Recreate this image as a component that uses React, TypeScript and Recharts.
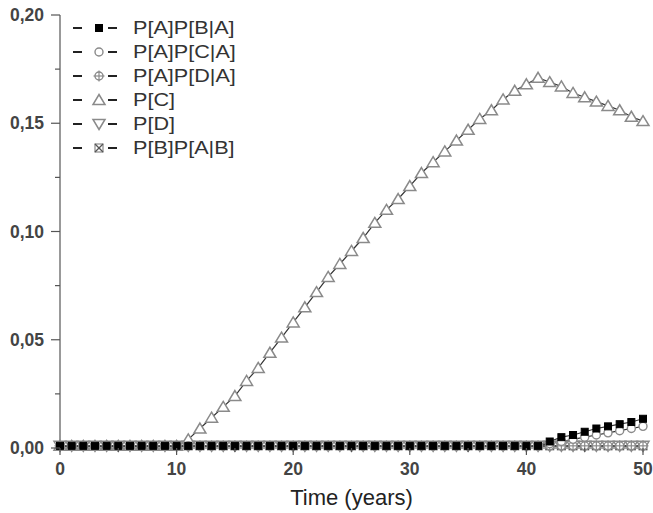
import React from 'react';
import { LineChart, Line, XAxis, YAxis, Legend } from 'recharts';

const years = [0, 1, 2, 3, 4, 5, 6, 7, 8, 9, 10, 11, 12, 13, 14, 15, 16, 17, 18, 19, 20, 21, 22, 23, 24, 25, 26, 27, 28, 29, 30, 31, 32, 33, 34, 35, 36, 37, 38, 39, 40, 41, 42, 43, 44, 45, 46, 47, 48, 49, 50];

const pApBA = [0.001, 0.001, 0.001, 0.001, 0.001, 0.001, 0.001, 0.001, 0.001, 0.001, 0.001, 0.001, 0.001, 0.001, 0.001, 0.001, 0.001, 0.001, 0.001, 0.001, 0.001, 0.001, 0.001, 0.001, 0.001, 0.001, 0.001, 0.001, 0.001, 0.001, 0.001, 0.001, 0.001, 0.001, 0.001, 0.001, 0.001, 0.001, 0.001, 0.001, 0.001, 0.001, 0.003, 0.005, 0.006, 0.0075, 0.009, 0.01, 0.011, 0.012, 0.0135];
const pApCA = [0.001, 0.001, 0.001, 0.001, 0.001, 0.001, 0.001, 0.001, 0.001, 0.001, 0.001, 0.001, 0.001, 0.001, 0.001, 0.001, 0.001, 0.001, 0.001, 0.001, 0.001, 0.001, 0.001, 0.001, 0.001, 0.001, 0.001, 0.001, 0.001, 0.001, 0.001, 0.001, 0.001, 0.001, 0.001, 0.001, 0.001, 0.001, 0.001, 0.001, 0.001, 0.001, 0.002, 0.003, 0.004, 0.005, 0.006, 0.007, 0.008, 0.009, 0.01];
const pApDA = [0.001, 0.001, 0.001, 0.001, 0.001, 0.001, 0.001, 0.001, 0.001, 0.001, 0.001, 0.001, 0.001, 0.001, 0.001, 0.001, 0.001, 0.001, 0.001, 0.001, 0.001, 0.001, 0.001, 0.001, 0.001, 0.001, 0.001, 0.001, 0.001, 0.001, 0.001, 0.001, 0.001, 0.001, 0.001, 0.001, 0.001, 0.001, 0.001, 0.001, 0.001, 0.001, 0.001, 0.001, 0.001, 0.001, 0.001, 0.001, 0.001, 0.001, 0.001];
const pC = [0.001, 0.001, 0.001, 0.001, 0.001, 0.001, 0.001, 0.001, 0.001, 0.001, 0.001, 0.004, 0.009, 0.014, 0.019, 0.024, 0.031, 0.037, 0.044, 0.051, 0.058, 0.065, 0.072, 0.079, 0.085, 0.091, 0.097, 0.104, 0.11, 0.115, 0.121, 0.127, 0.132, 0.137, 0.142, 0.147, 0.152, 0.156, 0.161, 0.165, 0.168, 0.171, 0.169, 0.167, 0.164, 0.162, 0.16, 0.158, 0.156, 0.153, 0.151];
const pD = [0.001, 0.001, 0.001, 0.001, 0.001, 0.001, 0.001, 0.001, 0.001, 0.001, 0.001, 0.001, 0.001, 0.001, 0.001, 0.001, 0.001, 0.001, 0.001, 0.001, 0.001, 0.001, 0.001, 0.001, 0.001, 0.001, 0.001, 0.001, 0.001, 0.001, 0.001, 0.001, 0.001, 0.001, 0.001, 0.001, 0.001, 0.001, 0.001, 0.001, 0.001, 0.001, 0.001, 0.001, 0.001, 0.001, 0.001, 0.001, 0.001, 0.001, 0.001];
const pBpAB = [0.001, 0.001, 0.001, 0.001, 0.001, 0.001, 0.001, 0.001, 0.001, 0.001, 0.001, 0.001, 0.001, 0.001, 0.001, 0.001, 0.001, 0.001, 0.001, 0.001, 0.001, 0.001, 0.001, 0.001, 0.001, 0.001, 0.001, 0.001, 0.001, 0.001, 0.001, 0.001, 0.001, 0.001, 0.001, 0.001, 0.001, 0.001, 0.001, 0.001, 0.001, 0.001, 0.001, 0.001, 0.001, 0.001, 0.001, 0.001, 0.001, 0.001, 0.001];

const xTicks = [0, 5, 10, 15, 20, 25, 30, 35, 40, 45, 50];
const xMajor = [0, 10, 20, 30, 40, 50];
const yTicks = [0, 0.025, 0.05, 0.075, 0.1, 0.125, 0.15, 0.175, 0.2];
const yMajor = [0, 0.05, 0.1, 0.15, 0.2];

const seriesNames = ['P[A]P[B|A]', 'P[A]P[C|A]', 'P[A]P[D|A]', 'P[C]', 'P[D]', 'P[B]P[A|B]'];
const seriesKeys = ['s0', 's1', 's2', 's3', 's4', 's5'];
const seriesKinds = ['square', 'circle', 'circlecross', 'tri', 'tridown', 'squarex'];

const data = years.map((t, i) => ({
  t,
  s0: pApBA[i],
  s1: pApCA[i],
  s2: pApDA[i],
  s3: pC[i],
  s4: pD[i],
  s5: pBpAB[i],
}));

const FONT = '"Liberation Sans", Arial, Helvetica, sans-serif';
const GREY = '#8a8a8a';
const AXIS = '#555';

function Marker({ kind, cx, cy }: { kind: string; cx: number; cy: number }) {
  if (cx == null || cy == null || isNaN(cx) || isNaN(cy)) return null;
  switch (kind) {
    case 'square':
      return <rect x={cx - 3.5} y={cy - 3.5} width={7} height={7} fill="#000" stroke="#000" strokeWidth={1} />;
    case 'circle':
      return <circle cx={cx} cy={cy} r={4} fill="#fff" stroke={GREY} strokeWidth={1.4} />;
    case 'circlecross':
      return (
        <g>
          <circle cx={cx} cy={cy} r={4} fill="#fff" stroke={GREY} strokeWidth={1.4} />
          <line x1={cx - 5.5} x2={cx + 5.5} y1={cy} y2={cy} stroke={GREY} strokeWidth={1.2} />
          <line x1={cx} x2={cx} y1={cy - 5.5} y2={cy + 5.5} stroke={GREY} strokeWidth={1.2} />
        </g>
      );
    case 'tri':
      return (
        <polygon
          points={`${cx},${cy - 5.5} ${cx + 6},${cy + 4.5} ${cx - 6},${cy + 4.5}`}
          fill="#fff"
          stroke={GREY}
          strokeWidth={1.5}
        />
      );
    case 'tridown':
      return (
        <polygon
          points={`${cx},${cy + 5.5} ${cx + 6},${cy - 4.5} ${cx - 6},${cy - 4.5}`}
          fill="#fff"
          stroke={GREY}
          strokeWidth={1.5}
        />
      );
    case 'squarex':
      return (
        <g>
          <rect x={cx - 4} y={cy - 4} width={8} height={8} fill="#fff" stroke={GREY} strokeWidth={1.2} />
          <line x1={cx - 4} x2={cx + 4} y1={cy - 4} y2={cy + 4} stroke="#555" strokeWidth={1.2} />
          <line x1={cx - 4} x2={cx + 4} y1={cy + 4} y2={cy - 4} stroke="#555" strokeWidth={1.2} />
        </g>
      );
    default:
      return null;
  }
}

const XTick = (props: any) => {
  const { x, y, payload } = props;
  const v = payload.value;
  const major = xMajor.includes(v);
  return (
    <g>
      <line x1={x} x2={x} y1={y} y2={y + (major ? 7 : 4)} stroke={AXIS} strokeWidth={1.2} />
      {major && (
        <text x={x} y={y + 21} textAnchor="middle" dominantBaseline="central" fontSize={17.5} fontWeight="bold" fill="#444" fontFamily={FONT}>
          {v}
        </text>
      )}
    </g>
  );
};

const YTick = (props: any) => {
  const { x, y, payload } = props;
  const v = payload.value;
  const major = yMajor.some((m) => Math.abs(m - v) < 1e-9);
  return (
    <g>
      <line x1={x - (major ? 9 : 5)} x2={x} y1={y} y2={y} stroke={AXIS} strokeWidth={1.2} />
      {major && (
        <text x={x - 16} y={y} textAnchor="end" dominantBaseline="central" fontSize={17.5} fontWeight="bold" fill="#444" fontFamily={FONT}>
          {v.toFixed(2).replace('.', ',')}
        </text>
      )}
    </g>
  );
};

const LegendContent = () => (
  <svg width={200} height={150} style={{ display: 'block' }}>
    {seriesNames.map((name, i) => {
      const y = 10 + i * 24;
      return (
        <g key={name}>
          <line x1={5} x2={14} y1={y} y2={y} stroke="#222" strokeWidth={2} />
          <Marker kind={seriesKinds[i]} cx={31} cy={y} />
          <line x1={40} x2={49} y1={y} y2={y} stroke="#222" strokeWidth={2} />
          <text
            transform={`translate(65 ${y}) scale(1.2 1)`}
            x={0}
            y={0}
            dominantBaseline="central"
            fontSize={18}
            fill="#333"
            fontFamily={FONT}
          >
            {name}
          </text>
        </g>
      );
    })}
  </svg>
);

const drawOrder = [5, 4, 2, 3, 1, 0];

export default function App() {
  return (
    <div style={{ position: 'absolute', left: 0, top: 0, width: 653, height: 513, background: '#fff' }}>
      <LineChart width={653} height={513} data={data} margin={{ top: 15, right: 10, bottom: 0, left: 0 }}>
        <XAxis
          dataKey="t"
          type="number"
          domain={[0, 50]}
          ticks={xTicks}
          interval={0}
          tickSize={0}
          tickMargin={0}
          tickLine={false}
          tick={<XTick />}
          axisLine={{ stroke: AXIS, strokeWidth: 1.2 }}
          height={65}
          label={{ value: 'Time (years)', position: 'insideBottom', offset: 8, fontSize: 22, fill: '#222', fontFamily: FONT }}
        />
        <YAxis
          type="number"
          domain={[0, 0.2]}
          ticks={yTicks}
          interval={0}
          tickSize={0}
          tickMargin={0}
          tickLine={false}
          tick={<YTick />}
          axisLine={{ stroke: AXIS, strokeWidth: 1.2 }}
          width={60}
        />
        <Legend
          layout="vertical"
          align="center"
          verticalAlign="middle"
          content={<LegendContent />}
          wrapperStyle={{ left: 68, top: 18, width: 200, height: 150 }}
        />
        {drawOrder.map((i) => (
          <Line
            key={seriesKeys[i]}
            dataKey={seriesKeys[i]}
            name={seriesNames[i]}
            type="linear"
            stroke="#333"
            strokeWidth={1.2}
            isAnimationActive={false}
            dot={(p: any) => <Marker key={`${seriesKeys[i]}-${p.index}`} kind={seriesKinds[i]} cx={p.cx} cy={p.cy} />}
            activeDot={false}
            legendType="none"
          />
        ))}
      </LineChart>
    </div>
  );
}
